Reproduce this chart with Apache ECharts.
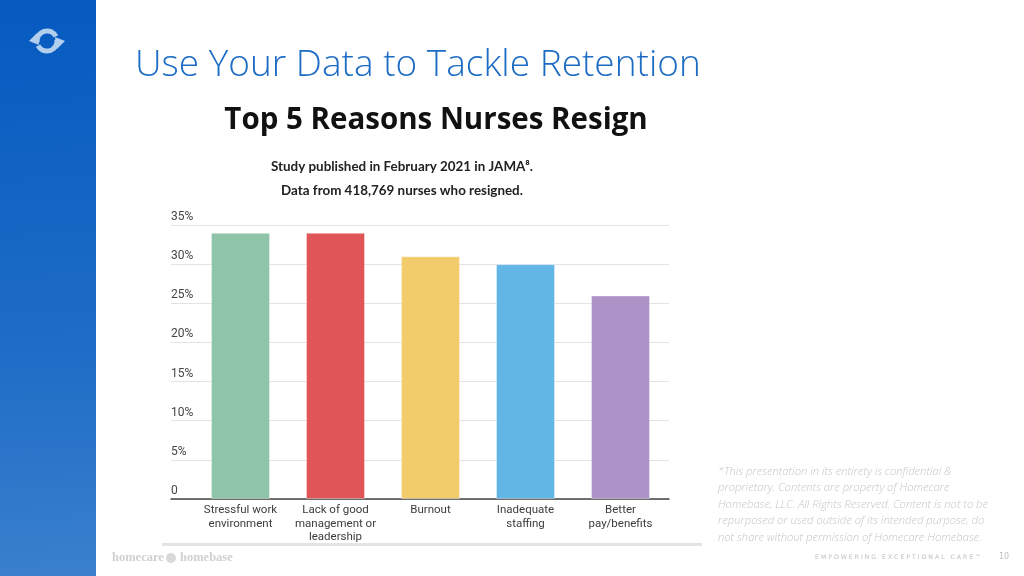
<!DOCTYPE html>
<html><head><meta charset="utf-8">
<script src="https://cdn.jsdelivr.net/npm/echarts@6/dist/echarts.min.js"></script>
<style>html,body{margin:0;padding:0;background:#fff}#c{width:1024px;height:576px}</style>
</head><body><div id="c"></div>
<script>
const categories = ['Stressful work\nenvironment', 'Lack of good\nmanagement or\nleadership', 'Burnout', 'Inadequate\nstaffing', 'Better\npay/benefits'];
const values = [34, 34, 31, 30, 26];
const barColors = ['#8fc4a9', '#e05558', '#f2cb6b', '#62b6e5', '#ac92c6'];
const yTicks = { min: 0, max: 35, interval: 5 };
const disclaimer = [
  '*This presentation in its entirety is confidential &',
  'proprietary. Contents are property of Homecare',
  'Homebase, LLC. All Rights Reserved. Content is not to be',
  'repurposed or used outside of its intended purpose, do',
  'not share without permission of Homecare Homebase.'
];

const chart = echarts.init(document.getElementById('c'), null, { renderer: 'canvas' });

const graphics = [
  { type: 'rect', shape: { x: 0, y: 0, width: 96, height: 576 }, style: { fill: new echarts.graphic.LinearGradient(0, 0, 0.4, 1, [{ offset: 0, color: '#065ac0' }, { offset: 0.6, color: '#1d6cc6' }, { offset: 1, color: '#3a80cd' }]) }, z: 0 },
  // logo arrows
  { type: 'arc', shape: { cx: 47, cy: 41, r: 10, startAngle: Math.PI * 0.95, endAngle: Math.PI * 1.85 }, style: { stroke: '#b3cfee', lineWidth: 5, fill: null }, z: 2 },
  { type: 'arc', shape: { cx: 47, cy: 41, r: 10, startAngle: Math.PI * -0.05, endAngle: Math.PI * 0.85 }, style: { stroke: '#b3cfee', lineWidth: 5, fill: null }, z: 2 },
  { type: 'polygon', shape: { points: [[29, 41], [37, 33], [39, 45]] }, style: { fill: '#b3cfee' }, z: 2 },
  { type: 'polygon', shape: { points: [[65, 41], [57, 49], [55, 37]] }, style: { fill: '#b3cfee' }, z: 2 },
  { type: 'text', x: 135, y: 47, style: { text: 'Use Your Data to Tackle Retention', font: '300 37px "Open Sans"', fill: '#1c6cc4' }, z: 2 },
  { type: 'text', x: 436, y: 106, style: { text: 'Top 5 Reasons Nurses Resign', font: '700 29.5px "Open Sans"', fill: '#111', textAlign: 'center' }, z: 2 },
  { type: 'text', x: 402, y: 160, style: { text: 'Study published in February 2021 in JAMA⁸.', font: '700 13.4px "Lato"', fill: '#222', textAlign: 'center' }, z: 2 },
  { type: 'text', x: 402, y: 184, style: { text: 'Data from 418,769 nurses who resigned.', font: '700 13.4px "Lato"', fill: '#222', textAlign: 'center' }, z: 2 },
  { type: 'rect', shape: { x: 162, y: 543, width: 540, height: 3 }, style: { fill: '#e4e4e4' }, z: 1 },
  { type: 'text', x: 112, y: 551, style: { text: 'homecare', font: '700 12.5px "Liberation Serif"', fill: '#d0d0d0' }, z: 2 },
  { type: 'circle', shape: { cx: 171, cy: 558, r: 5 }, style: { fill: '#d8d8d8' }, z: 2 },
  { type: 'text', x: 180, y: 551, style: { text: 'homebase', font: '700 12.5px "Liberation Serif"', fill: '#d0d0d0' }, z: 2 },
  { type: 'text', x: 815, y: 554, style: { text: 'E M P O W E R I N G   E X C E P T I O N A L   C A R E ™', font: '6.2px "DejaVu Sans"', fill: '#bdbdbd' }, z: 2 },
  { type: 'text', x: 999, y: 553, style: { text: '10', font: '8px "DejaVu Sans"', fill: '#bdbdbd' }, z: 2 }
];
disclaimer.forEach((t, i) => {
  graphics.push({ type: 'text', x: 718, y: 466 + i * 16.6, style: { text: t, font: 'italic 300 11.2px "Open Sans"', fill: '#c6c6c6' }, z: 2 });
});

chart.setOption({
  animation: false,
  graphic: graphics,
  grid: [
    { left: 171, width: 498, top: 225, height: 274 },
    { left: 193, width: 475, top: 225, height: 274 }
  ],
  xAxis: [
    { gridIndex: 0, type: 'value', min: 0, max: 1, axisLine: { show: true, onZero: false, lineStyle: { color: '#444', width: 1.5 } }, axisTick: { show: false }, axisLabel: { show: false }, splitLine: { show: false } },
    { gridIndex: 1, type: 'category', data: categories, axisLine: { show: false }, axisTick: { show: false },
      axisLabel: { color: '#3c3c3c', fontSize: 11.5, fontFamily: 'Roboto', lineHeight: 13.2, margin: 5, interval: 0 } }
  ],
  yAxis: [
    { gridIndex: 0, type: 'value', min: yTicks.min, max: yTicks.max, interval: yTicks.interval,
      axisLine: { show: false }, axisTick: { show: false },
      splitLine: { lineStyle: { color: '#e3e3e3', width: 1 } },
      axisLabel: { inside: true, align: 'left', verticalAlign: 'bottom', margin: 0, padding: [0, 0, 2, 0], color: '#444', fontSize: 12, fontFamily: 'Roboto',
        formatter: v => v === 0 ? '0' : v + '%' } },
    { gridIndex: 1, type: 'value', min: yTicks.min, max: yTicks.max, interval: yTicks.interval, show: false }
  ],
  series: [{
    type: 'bar', xAxisIndex: 1, yAxisIndex: 1, barWidth: 59,
    data: values.map((v, i) => ({ value: v, itemStyle: { color: barColors[i], borderColor: 'rgba(255,255,255,0.35)', borderWidth: 1 } })),
    z: 3
  }]
});
</script></body></html>
